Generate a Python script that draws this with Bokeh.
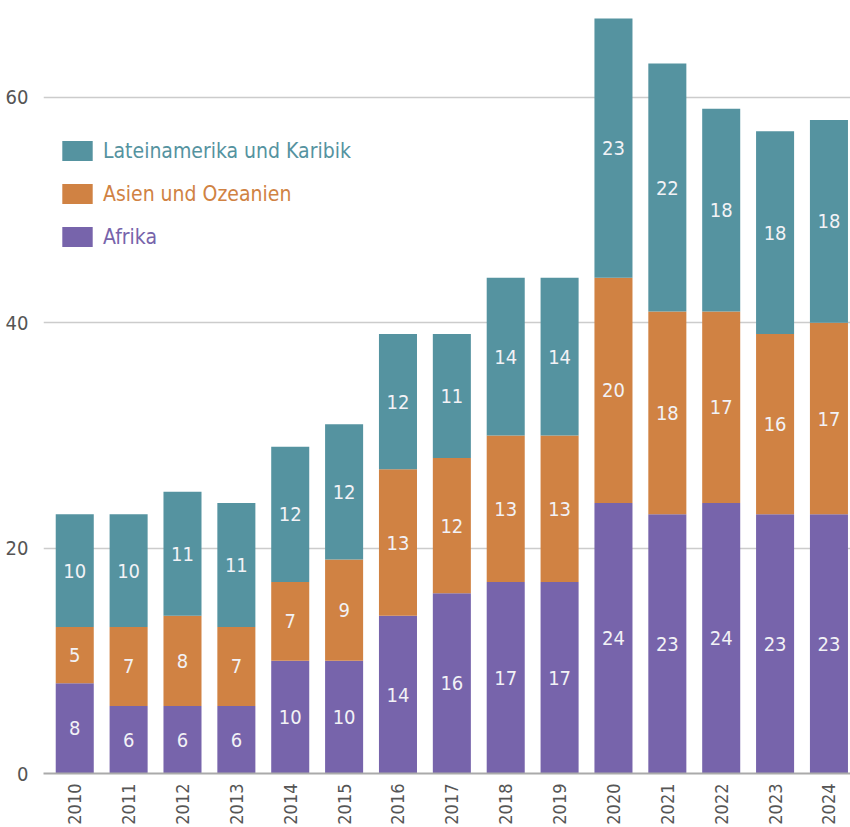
import math
from bokeh.plotting import figure
from bokeh.models import ColumnDataSource, Range1d, FixedTicker, Legend, LegendItem
from bokeh.embed import file_html
from bokeh.resources import INLINE
from bokeh.core.properties import value

years = [2010, 2011, 2012, 2013, 2014, 2015, 2016, 2017, 2018, 2019, 2020, 2021, 2022, 2023, 2024]
afrika = [8, 6, 6, 6, 10, 10, 14, 16, 17, 17, 24, 23, 24, 23, 23]
asien = [5, 7, 8, 7, 7, 9, 13, 12, 13, 13, 20, 18, 17, 16, 17]
latein = [10, 10, 11, 11, 12, 12, 12, 11, 14, 14, 23, 22, 18, 18, 18]
series_names = ["Afrika", "Asien und Ozeanien", "Lateinamerika und Karibik"]
y_ticks = [0, 20, 40, 60]

COLORS = ["#7764ab", "#d08243", "#5593a0"]
FONT = "DejaVu Sans Condensed"

src = ColumnDataSource(dict(year=years, afrika=afrika, asien=asien, latein=latein))

p = figure(width=850, height=827, output_backend="svg", toolbar_location=None,
           x_range=Range1d(2009.42, 2024.40), y_range=Range1d(0, 68.6),
           min_border_left=43, min_border_right=0, min_border_top=0, min_border_bottom=54)
p.outline_line_color = None
p.background_fill_color = "white"

renderers = p.vbar_stack(["afrika", "asien", "latein"], x="year", width=0.706, source=src,
                         color=COLORS, line_color=None)

# segment labels
for vals, base in ((afrika, [0]*len(years)),
                   (asien, afrika),
                   (latein, [a + b for a, b in zip(afrika, asien)])):
    mids = [b + v / 2 for b, v in zip(base, vals)]
    p.text(x=years, y=mids, text=[str(v) for v in vals], text_align="center",
           text_baseline="middle", text_color="#f2f2f6", text_font=value(FONT),
           text_font_size="20px")

# axes
p.xaxis.ticker = FixedTicker(ticks=years)
p.xaxis.major_label_orientation = math.pi / 2
p.xaxis.axis_line_color = "#aaaaaa"
p.xaxis.axis_line_width = 2
p.xaxis.major_tick_line_color = None
p.xaxis.minor_tick_line_color = None
p.xaxis.major_label_text_font = FONT
p.xaxis.major_label_text_font_size = "18px"
p.xaxis.major_label_text_color = "#555555"
p.xaxis.major_label_standoff = 4

p.yaxis.ticker = FixedTicker(ticks=y_ticks)
p.yaxis.axis_line_color = None
p.yaxis.major_tick_line_color = None
p.yaxis.minor_tick_line_color = None
p.yaxis.major_label_text_font = FONT
p.yaxis.major_label_text_font_size = "20px"
p.yaxis.major_label_text_color = "#555555"
p.yaxis.major_label_standoff = 9

p.xgrid.grid_line_color = None
p.ygrid.grid_line_color = "#cccccc"
p.ygrid.grid_line_width = 1.5

# legends, one per series to colour each label
legend_order = [2, 1, 0]
legend_y = [610, 567, 524]
for idx, ly in zip(legend_order, legend_y):
    lg = Legend(items=[LegendItem(label=series_names[idx], renderers=[renderers[idx]])],
                location=(15, ly), orientation="vertical",
                glyph_width=38, glyph_height=25, label_height=25, label_standoff=7,
                label_text_font=FONT, label_text_font_size="21px",
                label_text_color=COLORS[idx], padding=0, margin=0, spacing=0,
                border_line_color=None, background_fill_alpha=0)
    p.add_layout(lg, "center")

open("out.html", "w").write(file_html(p, INLINE))
